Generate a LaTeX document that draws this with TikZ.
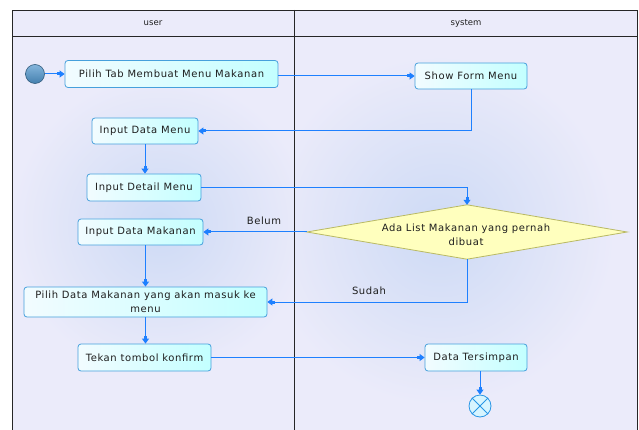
\documentclass[tikz,border=0pt]{standalone}
\usepackage{fontspec}
\setmainfont{DejaVu Sans}
\newfontfamily\nfont[LetterSpace=6]{DejaVu Sans}
\usetikzlibrary{arrows.meta,shapes.geometric}
\definecolor{lane}{RGB}{235,235,250}
\definecolor{glow}{RGB}{205,218,245}
\definecolor{boxl}{RGB}{242,252,255}
\definecolor{boxr}{RGB}{195,255,255}
\definecolor{boxb}{RGB}{70,160,220}
\definecolor{flowb}{RGB}{30,128,255}
\definecolor{diaf}{RGB}{255,255,190}
\definecolor{diab}{RGB}{185,185,100}
\definecolor{endf}{RGB}{215,245,255}
\definecolor{endb}{RGB}{40,150,230}
\definecolor{txt}{RGB}{30,30,30}
\definecolor{startc}{RGB}{80,150,205}
\tikzset{
  act/.style={draw=boxb, line width=0.8pt, rounded corners=3pt, left color=boxl, right color=boxr,
    inner sep=0pt, text=txt, font=\nfont\fontsize{10}{13.5}\selectfont, align=center},
  flow/.style={draw=flowb, line width=1pt, -{Rectangle[length=3pt,width=3pt]Triangle[length=5pt,width=7pt]}},
  frame/.style={draw=black!85, line width=0.9pt},
  lbl/.style={text=txt, font=\nfont\fontsize{10}{12}\selectfont, inner sep=0pt},
  hdr/.style={text=txt, font=\fontsize{8.5}{10}\selectfont, inner sep=0pt}
}
\begin{document}
\begin{tikzpicture}[x=1pt,y=-1pt]
\useasboundingbox (0,0) rectangle (639,430);
\fill[white] (0,0) rectangle (639,430);
\fill[lane] (12,10) rectangle (637,430);
\begin{scope}
  \clip (12,36) rectangle (294,430);
  \shade[inner color=glow, outer color=lane] (160,225) circle (150pt);
\end{scope}
\begin{scope}
  \clip (294,36) rectangle (637,430);
  \shade[inner color=glow, outer color=lane] (440,230) circle (175pt);
\end{scope}
\draw[frame] (12,432) -- (12,10) -- (637,10) -- (637,432);
\draw[frame] (12,36) -- (637,36);
\draw[frame] (294,10) -- (294,432);
\node[hdr] (hu) at (153,23) {user};
\node[hdr] (hs) at (466,23) {system};

% nodes
\node[circle, draw=startc!60!black, line width=0.6pt, top color=startc!70!white, bottom color=startc!85!black, minimum size=19pt, inner sep=0pt] (start) at (35,74) {};
\node[act, minimum width=213pt, minimum height=27pt] (pilih) at (171.5,74) {Pilih Tab Membuat Menu Makanan};
\node[act, minimum width=112pt, minimum height=26pt] (show) at (471,76) {Show Form Menu};
\node[act, minimum width=106pt, minimum height=26pt] (idm) at (145,131) {Input Data Menu};
\node[act, minimum width=114pt, minimum height=27pt] (idet) at (144,187.5) {Input Detail Menu};
\node[rectangle, minimum width=320pt, minimum height=54pt, inner sep=0pt] (dia) at (467,232) {};
\filldraw[draw=diab, line width=0.8pt, fill=diaf] (dia.north) -- (dia.east) -- (dia.south) -- (dia.west) -- cycle;
\node[text=txt, font=\nfont\fontsize{10}{14}\selectfont, align=center, inner sep=0pt] (diat) at (466,235) {Ada List Makanan yang pernah\\dibuat};
\node[act, minimum width=125pt, minimum height=26pt] (idmak) at (140.5,232) {Input Data Makanan};
\node[act, minimum width=243pt, minimum height=30pt] (pdm) at (145.5,302) {Pilih Data Makanan yang akan masuk ke\\menu};
\node[act, minimum width=133pt, minimum height=27pt] (tekan) at (144.5,357.5) {Tekan tombol konfirm};
\node[act, minimum width=102pt, minimum height=27pt] (data) at (476,357.5) {Data Tersimpan};
\node[circle, draw=endb, line width=0.8pt, fill=endf, minimum size=22pt, inner sep=0pt] (end) at (480,406) {};
\draw[endb, line width=0.8pt] (end.45) -- (end.225) (end.135) -- (end.315);

% connectors
\draw[flow] (start) -- (pilih);
\draw[flow] (pilih.east |- show.west) -- (show.west);
\draw[flow] (show.south) |- (idm.east);
\draw[flow] (idm.south) -- (idm.south |- idet.north);
\draw[flow] (idet.east) -| (dia.north);
\draw[flow] (dia.west) -- (idmak.east);
\node[lbl] (belum) at (264,221) {Belum};
\draw[flow] (dia.south) |- (pdm.east);
\node[lbl] (sudah) at (369,291) {Sudah};
\draw[flow] (pdm.north |- idmak.south) -- (pdm.north);
\draw[flow] (pdm.south) -- (pdm.south |- tekan.north);
\draw[flow] (tekan.east) -- (data.west);
\draw[flow] (end |- data.south) -- (end);
\end{tikzpicture}
\end{document}
